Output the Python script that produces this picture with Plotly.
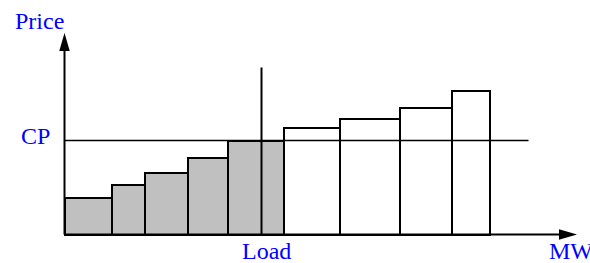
import plotly.graph_objects as go

# ---- data ----
unit_widths = [47, 33, 43, 40, 56, 56, 60, 52, 38]      # MW per offer block
unit_prices = [37, 50, 62, 76.5, 94, 107, 115.5, 127, 144]  # offer price
dispatched = [True, True, True, True, True, False, False, False, False]
clearing_price = 94       # CP
load_mw = 197             # Load
load_line_top = 167
cp_line_end = 464
x_axis_end = 512.5
y_axis_end = 201.5
axis_labels = {"y": "Price", "x": "MW", "cp": "CP", "load": "Load"}

GRAY = "#C0C0C0"
BLUE = "#0000FF"
FONT = "Liberation Serif, Times New Roman, serif"

# cumulative centers
centers = []
left = 0
for w in unit_widths:
    centers.append(left + w / 2)
    left += w

fig = go.Figure()
fig.add_trace(go.Bar(
    x=centers, y=unit_prices, width=unit_widths, base=0,
    marker=dict(color=[GRAY if d else "white" for d in dispatched],
                line=dict(color="black", width=2)),
    hoverinfo="skip", showlegend=False,
))

shapes = []
# CP line
shapes.append(dict(type="line", x0=0, x1=cp_line_end, y0=clearing_price, y1=clearing_price,
                   line=dict(color="black", width=1.5), layer="above"))
# Load line
shapes.append(dict(type="line", x0=load_mw, x1=load_mw, y0=0, y1=load_line_top,
                   line=dict(color="black", width=2), layer="above"))
# axes
head_len = 18
head_w = 10.5
shapes.append(dict(type="line", x0=0, x1=x_axis_end - head_len + 2, y0=0, y1=0,
                   line=dict(color="black", width=2), layer="above"))
shapes.append(dict(type="line", x0=0, x1=0, y0=0, y1=y_axis_end - head_len + 2,
                   line=dict(color="black", width=2), layer="above"))
# arrowheads
shapes.append(dict(type="path",
                   path=f"M {x_axis_end},0 L {x_axis_end-head_len},{head_w/2} L {x_axis_end-head_len},{-head_w/2} Z",
                   fillcolor="black", line=dict(width=0), layer="above"))
shapes.append(dict(type="path",
                   path=f"M 0,{y_axis_end} L {head_w/2},{y_axis_end-head_len} L {-head_w/2},{y_axis_end-head_len} Z",
                   fillcolor="black", line=dict(width=0), layer="above"))

fs = 24
annotations = [
    dict(x=-51.5, y=214, text=axis_labels["y"], xanchor="left", yanchor="middle"),
    dict(x=-45.5, y=98.5, text=axis_labels["cp"], xanchor="left", yanchor="middle"),
    dict(x=175, y=-16, text=axis_labels["load"], xanchor="left", yanchor="middle"),
    dict(x=482.5, y=-16, text=axis_labels["x"], xanchor="left", yanchor="middle"),
]
for a in annotations:
    a.update(xref="x", yref="y", showarrow=False,
             font=dict(family=FONT, size=fs, color=BLUE))

fig.update_layout(
    width=590, height=263,
    margin=dict(l=0, r=0, t=0, b=0),
    paper_bgcolor="white", plot_bgcolor="white",
    xaxis=dict(range=[-64.5, 525.5], visible=False, fixedrange=True),
    yaxis=dict(range=[-28.5, 234.5], visible=False, fixedrange=True),
    shapes=shapes, annotations=annotations,
    bargap=0,
)

fig.write_html(
    "out.html",
    config={"displayModeBar": False},
    post_script="document.body.style.margin='0';document.body.style.overflow='hidden';",
)
